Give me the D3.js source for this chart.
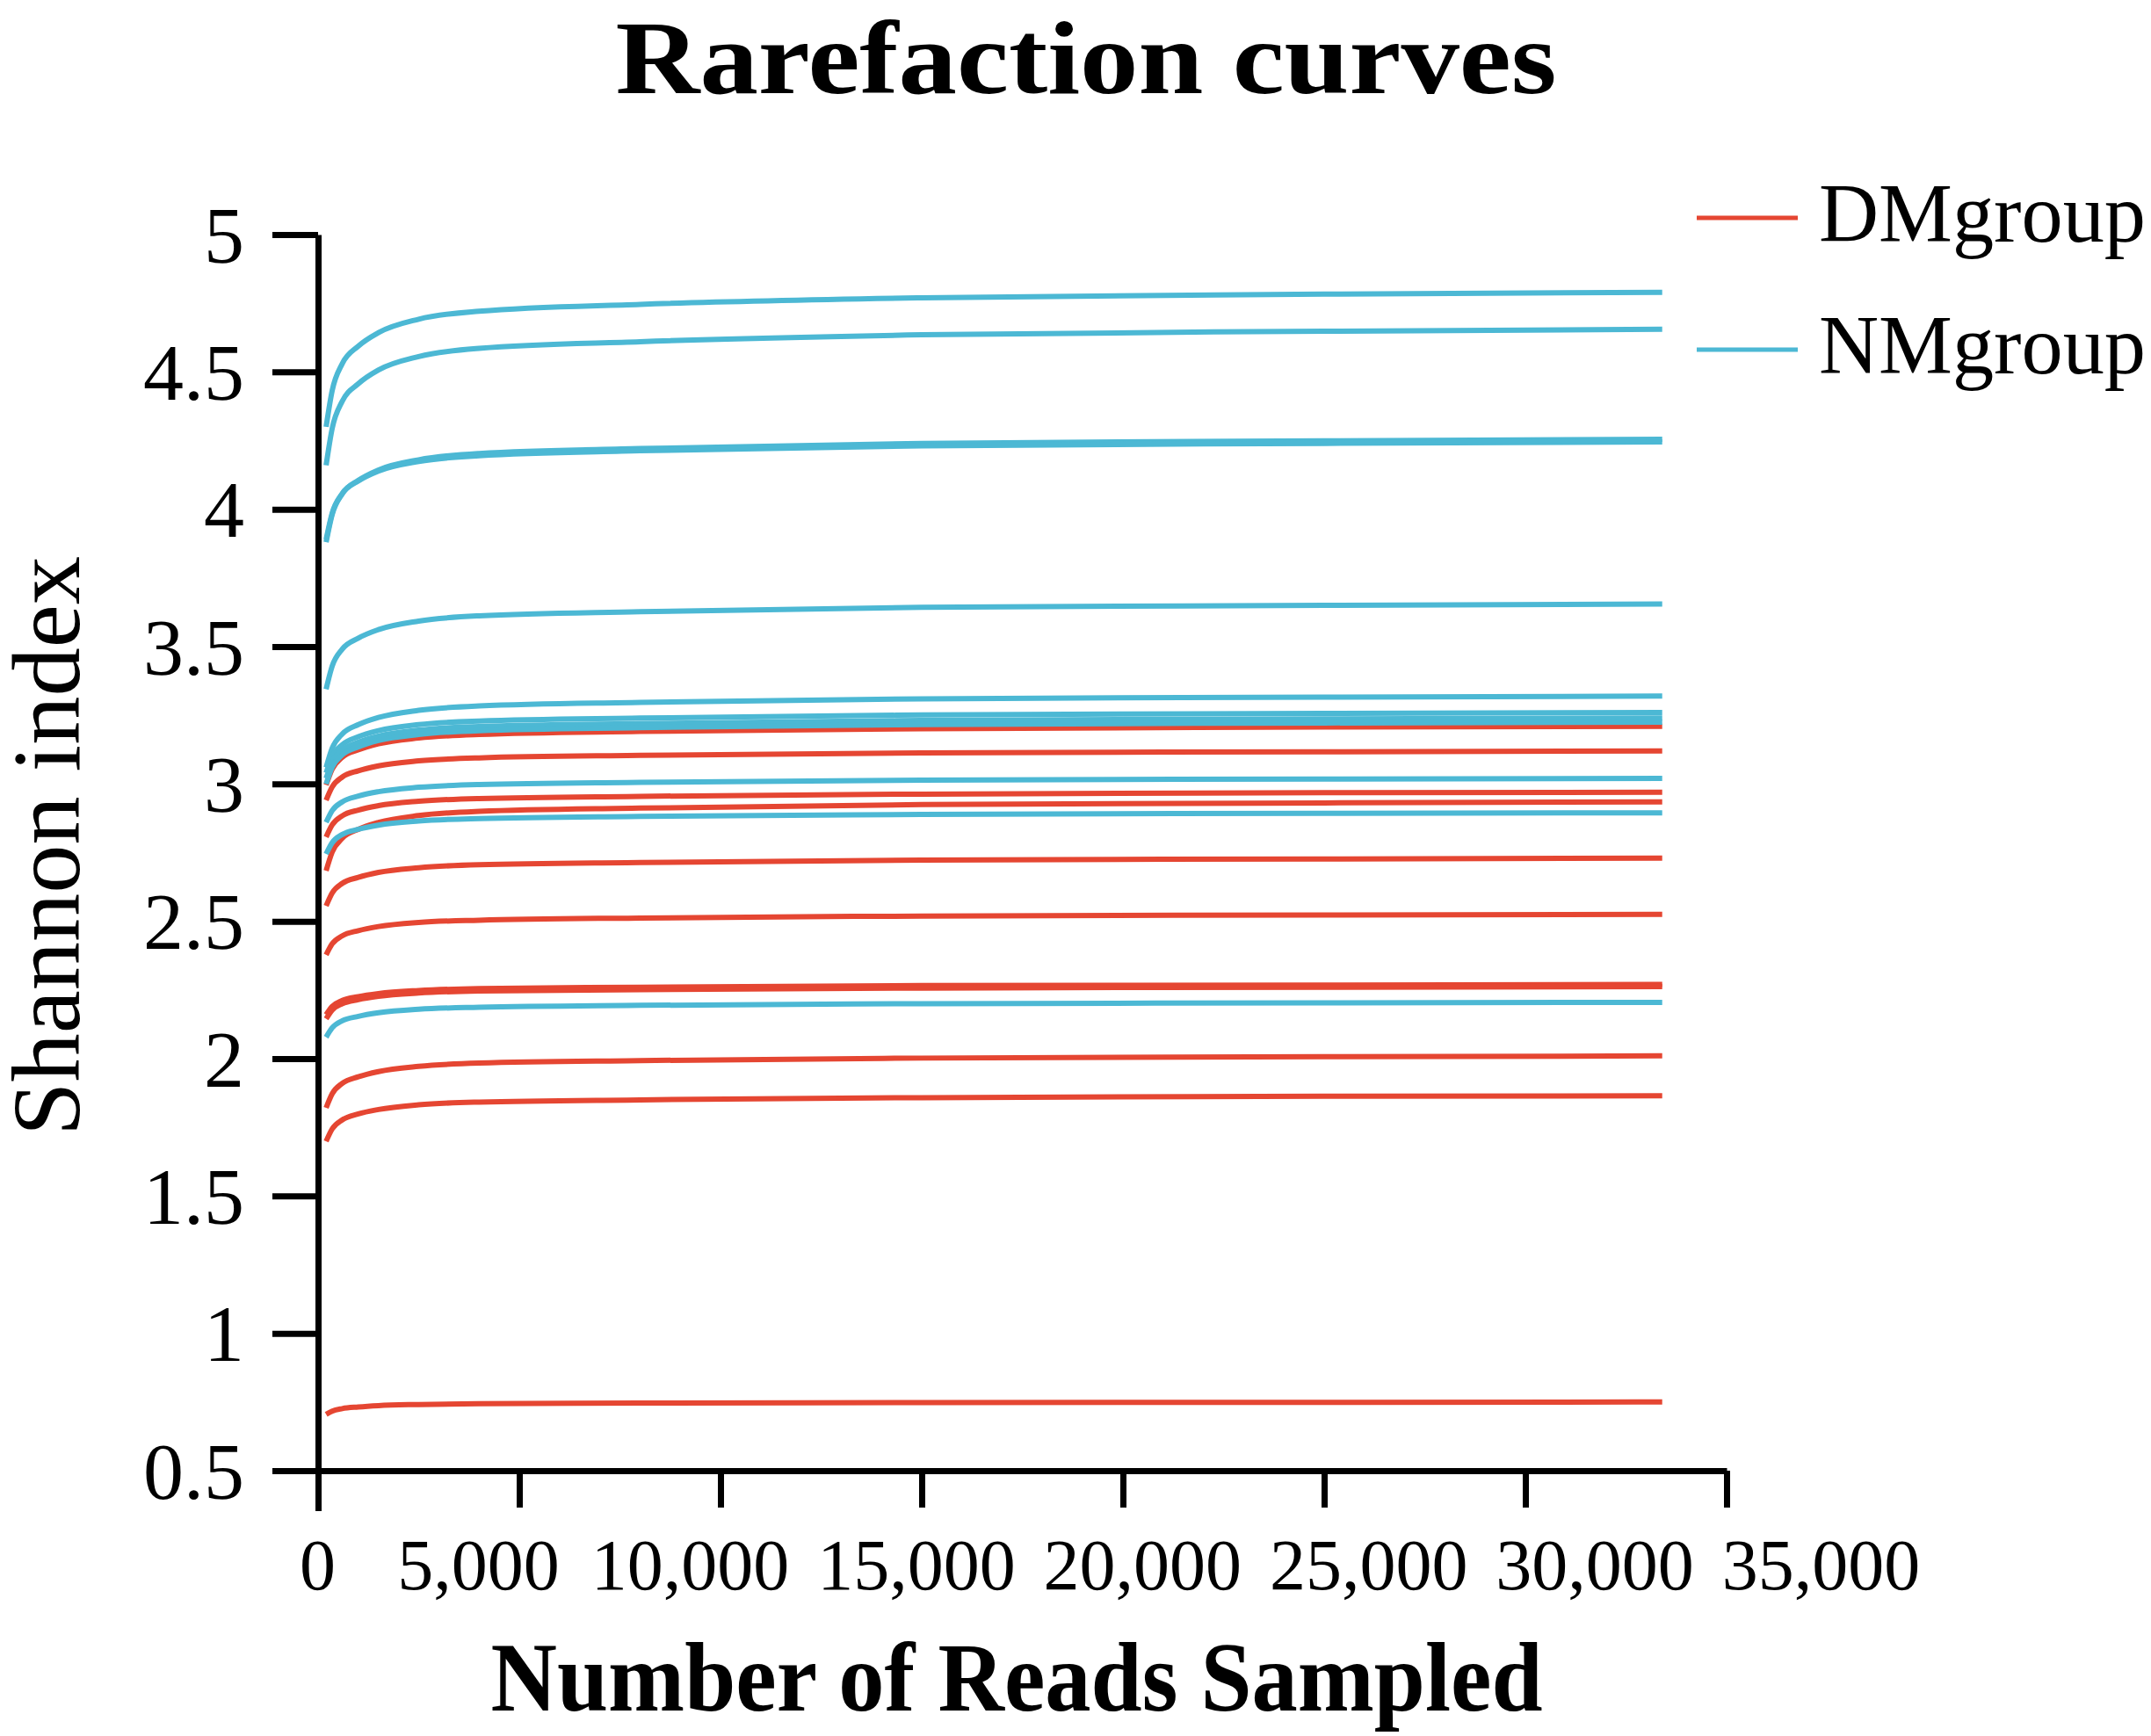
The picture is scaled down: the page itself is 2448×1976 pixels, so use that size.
<!DOCTYPE html>
<html>
<head>
<meta charset="utf-8">
<script src="https://cdn.jsdelivr.net/npm/d3@7"></script>
<style>
body { margin: 0; background: #fff; }
text { font-family: "Liberation Serif", "Times New Roman", serif; fill: #000; }
</style>
</head>
<body>
<div id="viz"></div>
<script>
// sampling depths (reads) for every curve
const depths = [200, 350, 600, 1000, 1500, 2500, 4000, 8000, 15000, 25000, 33400];

// Shannon index of each DMgroup sample
const dmCurves = [
  [2.996, 3.054, 3.097, 3.124, 3.146, 3.167, 3.180, 3.191, 3.201, 3.207, 3.210],
  [2.941, 2.989, 3.025, 3.048, 3.066, 3.084, 3.095, 3.104, 3.113, 3.117, 3.120],
  [2.807, 2.851, 2.884, 2.905, 2.921, 2.937, 2.947, 2.955, 2.963, 2.968, 2.970],
  [2.684, 2.752, 2.802, 2.835, 2.860, 2.885, 2.900, 2.912, 2.925, 2.931, 2.935],
  [2.556, 2.603, 2.638, 2.660, 2.678, 2.695, 2.706, 2.714, 2.723, 2.727, 2.730],
  [2.378, 2.418, 2.447, 2.466, 2.481, 2.496, 2.504, 2.512, 2.519, 2.523, 2.525],
  [2.160, 2.190, 2.212, 2.226, 2.237, 2.248, 2.255, 2.260, 2.266, 2.268, 2.270],
  [2.145, 2.177, 2.200, 2.215, 2.227, 2.239, 2.246, 2.251, 2.257, 2.260, 2.262],
  [1.821, 1.872, 1.910, 1.934, 1.953, 1.972, 1.984, 1.993, 2.002, 2.007, 2.010],
  [1.699, 1.744, 1.777, 1.799, 1.815, 1.832, 1.842, 1.850, 1.858, 1.863, 1.865],
  [0.705, 0.717, 0.726, 0.732, 0.737, 0.741, 0.744, 0.746, 0.748, 0.749, 0.750]
];

// Shannon index of each NMgroup sample
const nmCurves = [
  [4.300, 4.432, 4.530, 4.594, 4.643, 4.692, 4.721, 4.746, 4.770, 4.783, 4.790],
  [4.160, 4.294, 4.393, 4.457, 4.507, 4.556, 4.586, 4.610, 4.635, 4.648, 4.655],
  [3.880, 3.981, 4.056, 4.105, 4.143, 4.180, 4.203, 4.221, 4.240, 4.249, 4.255],
  [3.890, 3.986, 4.057, 4.103, 4.139, 4.174, 4.195, 4.213, 4.231, 4.240, 4.245],
  [3.345, 3.429, 3.491, 3.531, 3.562, 3.593, 3.612, 3.627, 3.643, 3.650, 3.655],
  [3.060, 3.130, 3.182, 3.216, 3.242, 3.268, 3.284, 3.297, 3.310, 3.316, 3.320],
  [3.040, 3.099, 3.143, 3.172, 3.194, 3.216, 3.229, 3.240, 3.251, 3.257, 3.260],
  [3.020, 3.079, 3.123, 3.152, 3.174, 3.196, 3.209, 3.220, 3.231, 3.237, 3.240],
  [3.000, 3.061, 3.106, 3.135, 3.158, 3.180, 3.194, 3.205, 3.216, 3.222, 3.225],
  [2.860, 2.903, 2.935, 2.956, 2.972, 2.988, 2.998, 3.006, 3.014, 3.018, 3.020],
  [2.745, 2.786, 2.816, 2.835, 2.850, 2.865, 2.874, 2.882, 2.889, 2.893, 2.895],
  [2.078, 2.112, 2.138, 2.154, 2.167, 2.180, 2.187, 2.194, 2.200, 2.203, 2.205]
];

const groups = ["DMgroup", "NMgroup"];
const xTicks = [0, 5000, 10000, 15000, 20000, 25000, 30000, 35000];
const yTicks = [0.5, 1, 1.5, 2, 2.5, 3, 3.5, 4, 4.5, 5];

const width = 2448;
const height = 1976;

const colors = d3.scaleOrdinal().domain(groups).range(["#e54632", "#4cb8d4"]);

const svg = d3.select("#viz")
  .append("svg")
  .attr("width", width)
  .attr("height", height);

const x = d3.scaleLinear().domain([0, 35000]).range([362, 1965]);
const y = d3.scaleLinear().domain([0.5, 5]).range([1674, 267]);

// the x tick labels in the figure drift right of their ticks
const xLabel = d3.scaleLinear().domain([0, 5000, 10000, 35000]).range([361, 544, 785, 2072]);

// curves, DM below NM
const line = d3.line()
  .x(function(d, i) { return x(depths[i]) })
  .y(function(d) { return y(d) })
  .curve(d3.curveMonotoneX);

const series = dmCurves.map(function(v) { return {group: "DMgroup", values: v} })
  .concat(nmCurves.map(function(v) { return {group: "NMgroup", values: v} }));

svg.append("g")
  .selectAll("path")
  .data(series)
  .enter()
  .append("path")
  .attr("d", function(d) { return line(d.values) })
  .attr("fill", "none")
  .attr("stroke", function(d) { return colors(d.group) })
  .attr("stroke-width", 6);

// y axis
const yAxis = svg.append("g")
  .attr("transform", "translate(" + x(0) + ",0)")
  .call(d3.axisLeft(y).tickValues(yTicks).tickSize(52).tickSizeOuter(0).tickPadding(32)
    .tickFormat(function(d) { return d }));
yAxis.select(".domain").attr("stroke-width", 7);
yAxis.selectAll(".tick line").attr("stroke-width", 7);
yAxis.selectAll(".tick text")
  .attr("font-size", 92)
  .attr("font-family", null)
  .attr("dy", "0.34em");

// x axis
const xAxis = svg.append("g")
  .attr("transform", "translate(0," + y(0.5) + ")")
  .call(d3.axisBottom(x).tickValues(xTicks).tickSize(42).tickSizeOuter(0)
    .tickFormat(d3.format(",")));
xAxis.select(".domain").attr("stroke-width", 7);
xAxis.selectAll(".tick line").attr("stroke-width", 7);
xAxis.select(".tick line").attr("y2", 46);
xAxis.selectAll(".tick text")
  .attr("font-size", 82)
  .attr("font-family", null)
  .attr("x", function(d) { return xLabel(d) - x(d) })
  .attr("y", 1809 - y(0.5))
  .attr("dy", 0);

// title and axis labels
svg.append("text")
  .attr("x", 1236)
  .attr("y", 106)
  .attr("text-anchor", "middle")
  .attr("font-size", 118)
  .attr("font-weight", "bold")
  .attr("textLength", 1071)
  .attr("lengthAdjust", "spacingAndGlyphs")
  .text("Rarefaction curves");

svg.append("text")
  .attr("x", 1157)
  .attr("y", 1947)
  .attr("text-anchor", "middle")
  .attr("font-size", 112)
  .attr("font-weight", "bold")
  .attr("textLength", 1197)
  .attr("lengthAdjust", "spacingAndGlyphs")
  .text("Number of Reads Sampled");

svg.append("text")
  .attr("transform", "translate(90,963) rotate(-90)")
  .attr("text-anchor", "middle")
  .attr("font-size", 110)
  .attr("textLength", 660)
  .attr("lengthAdjust", "spacingAndGlyphs")
  .text("Shannon index");

// legend
const legend = svg.append("g")
  .selectAll("g")
  .data(groups)
  .enter()
  .append("g")
  .attr("transform", function(d, i) { return "translate(1931," + (248 + i * 150) + ")" });

legend.append("line")
  .attr("x1", 0)
  .attr("x2", 115)
  .attr("stroke", function(d) { return colors(d) })
  .attr("stroke-width", 5);

legend.append("text")
  .attr("x", 139)
  .attr("y", 27)
  .attr("font-size", 95)
  .attr("textLength", 372)
  .attr("lengthAdjust", "spacingAndGlyphs")
  .text(function(d) { return d });
</script>
</body>
</html>
